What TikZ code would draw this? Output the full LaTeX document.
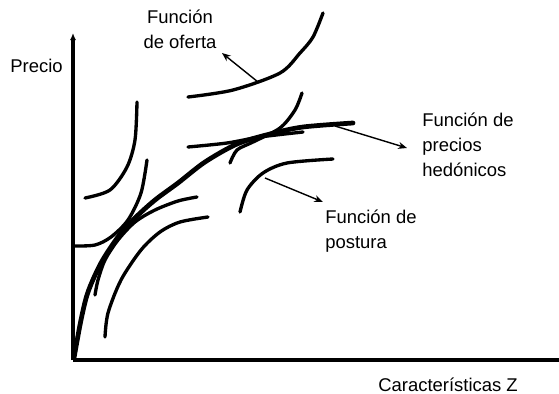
\documentclass[tikz,border=0pt]{standalone}
\usepackage{fontspec}
\setmainfont{Liberation Sans}
\usetikzlibrary{arrows.meta}

\begin{document}
\begin{tikzpicture}[x=0.02cm, y=-0.02cm,
  curva/.style={line width=1.9pt, line cap=round},
  hedonica/.style={line width=2.7pt, line cap=round},
  flecha/.style={line width=0.8pt, -{Stealth[length=5pt,width=4pt]}},
  etiqueta/.style={font=\fontsize{10.5}{14.2}\selectfont, inner sep=0pt}]
\useasboundingbox (0,0) rectangle (559,393);

% Ejes
\coordinate (O) at (73,360);
\coordinate (ytop) at (73,33);
\coordinate (xend) at (559,360);
\draw [line width=2.1pt, -{Latex[length=4pt,width=3.5pt]}] (O) -- (ytop);
\draw [line width=2.1pt] (O) -- (xend);
\node [etiqueta, anchor=base west] (precio) at (10,72) {Precio};
\node [etiqueta, anchor=base west] (caract) at (378,391) {Características Z};

% Función de precios hedónicos
\draw [hedonica] plot [smooth] coordinates {(74,358) (81,320) (88,292) (101,263) (118,237) (135,218) (155,200) (178,183) (205,162) (237,144) (270,134) (303,127) (353,123)};

% Funciones de oferta
\draw [curva] plot [smooth] coordinates {(74,246) (95,245) (111,237) (128,220) (141,193) (147,160)};
\draw [curva] plot [smooth] coordinates {(85,198) (110,190) (127,167) (135,140) (137,102)};
\draw [curva] plot [smooth] coordinates {(230,163) (237,150) (253,142) (280,128) (295,110) (302,93)};
\draw [curva] plot [smooth] coordinates {(188,97) (233,90) (280,73) (300,53) (313,37) (323,13)};

% Funciones de postura
\draw [curva] plot [smooth] coordinates {(95,295) (98,280) (105,260) (118,240) (135,222) (155,210) (178,201) (197,197)};
\draw [curva] plot [smooth] coordinates {(105,337) (108,313) (121,280) (141,250) (160,232) (180,222) (208,217)};
\draw [curva] plot [smooth] coordinates {(188,147) (227,143) (260,137) (303,132)};
\draw [curva] plot [smooth] coordinates {(240,212) (247,190) (263,173) (287,163) (333,159)};

% Etiquetas
\node [etiqueta, anchor=north, align=center] (oferta) at (180,10) {Función\\de oferta};
\node [etiqueta, anchor=north west, align=left] (hedon) at (422,113) {Función de\\precios\\hedónicos};
\node [etiqueta, anchor=north west, align=left] (postura) at (325,210) {Función de\\postura};

% Flechas
\coordinate (pOferta) at (258,82);
\coordinate (tOferta) at (222,53);
\coordinate (pHedon) at (335,126);
\coordinate (tHedon) at (407,148);
\coordinate (pPostura) at (265,178);
\coordinate (tPostura) at (323,202);
\draw [flecha] (pOferta) -- (tOferta);
\draw [flecha] (pHedon) -- (tHedon);
\draw [flecha] (pPostura) -- (tPostura);
\end{tikzpicture}
\end{document}
